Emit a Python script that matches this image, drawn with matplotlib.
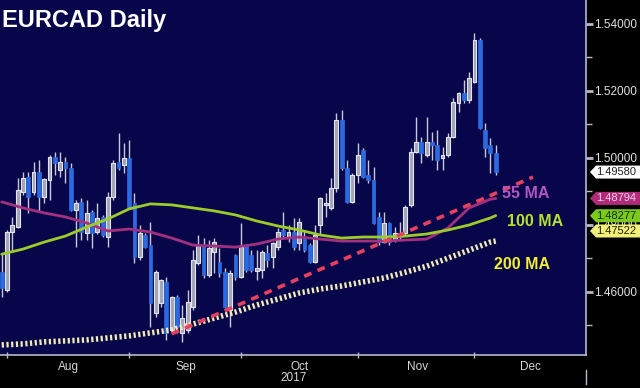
import matplotlib
matplotlib.use("Agg")
import matplotlib.pyplot as plt
from matplotlib.patches import Polygon
from matplotlib import font_manager
import numpy as np

# ---------------- data ----------------
day_index = list(range(-1, 93))
opens = [1.4660, 1.4606, 1.4779, 1.4794, 1.4898, 1.4943, 1.4898, 1.4958, 1.4884, 1.4934,
         1.5003, 1.4964, 1.4988, 1.4970, 1.4845, 1.4869, 1.4776, 1.4839, 1.4779, 1.4824,
         1.4764, 1.4884, 1.4988, 1.4979, 1.5000, 1.4866, 1.4704, 1.4770, 1.4740, 1.4537,
         1.4567, 1.4630, 1.4487, 1.4585, 1.4478, 1.4487, 1.4555, 1.4687, 1.4740, 1.4651,
         1.4719, 1.4690, 1.4660, 1.4546, 1.4710, 1.4645, 1.4740, 1.4710, 1.4663, 1.4666,
         1.4716, 1.4704, 1.4734, 1.4785, 1.4761, 1.4779, 1.4746, 1.4764, 1.4740, 1.4690,
         1.4800, 1.4860, 1.4851, 1.4910, 1.5113, 1.4970, 1.4869, 1.4949, 1.5024, 1.4949,
         1.4934, 1.4824, 1.4749, 1.4806, 1.4755, 1.4776, 1.4776, 1.4860, 1.5018, 1.5048,
         1.5009, 1.5048, 1.5039, 1.5000, 1.5009, 1.5063, 1.5164, 1.5194, 1.5173, 1.5227,
         1.5352, 1.5083, 1.5039, 1.5015]
highs = [1.4716, 1.4785, 1.4824, 1.4940, 1.4958, 1.4958, 1.4988, 1.4994, 1.4940, 1.5009,
         1.5018, 1.5018, 1.5003, 1.4985, 1.4875, 1.4881, 1.4875, 1.4845, 1.4866, 1.4830,
         1.4898, 1.4994, 1.5075, 1.5045, 1.5054, 1.4896, 1.4800, 1.4776, 1.4809, 1.4666,
         1.4640, 1.4645, 1.4588, 1.4591, 1.4561, 1.4606, 1.4725, 1.4770, 1.4761, 1.4755,
         1.4761, 1.4731, 1.4672, 1.4666, 1.4713, 1.4806, 1.4743, 1.4725, 1.4725, 1.4725,
         1.4740, 1.4749, 1.4791, 1.4839, 1.4800, 1.4821, 1.4821, 1.4785, 1.4746, 1.4800,
         1.4884, 1.4896, 1.4940, 1.5134, 1.5143, 1.4994, 1.4955, 1.5045, 1.5030, 1.4994,
         1.4973, 1.4839, 1.4839, 1.4809, 1.4794, 1.4809, 1.4860, 1.5030, 1.5122, 1.5063,
         1.5122, 1.5078, 1.5084, 1.5033, 1.5075, 1.5179, 1.5197, 1.5233, 1.5257, 1.5373,
         1.5358, 1.5104, 1.5060, 1.5039]
lows = [1.4585, 1.4600, 1.4725, 1.4790, 1.4890, 1.4836, 1.4890, 1.4839, 1.4866, 1.4875,
        1.4949, 1.4943, 1.4925, 1.4842, 1.4734, 1.4755, 1.4755, 1.4731, 1.4773, 1.4764,
        1.4734, 1.4875, 1.4964, 1.4955, 1.4850, 1.4687, 1.4696, 1.4731, 1.4496, 1.4525,
        1.4555, 1.4457, 1.4478, 1.4478, 1.4451, 1.4478, 1.4546, 1.4681, 1.4642, 1.4645,
        1.4657, 1.4645, 1.4552, 1.4496, 1.4636, 1.4642, 1.4660, 1.4660, 1.4636, 1.4642,
        1.4675, 1.4672, 1.4725, 1.4761, 1.4749, 1.4725, 1.4725, 1.4719, 1.4687, 1.4687,
        1.4770, 1.4824, 1.4845, 1.4898, 1.4964, 1.4866, 1.4866, 1.4925, 1.4940, 1.4925,
        1.4803, 1.4740, 1.4746, 1.4740, 1.4749, 1.4755, 1.4770, 1.4854, 1.5015, 1.4985,
        1.5003, 1.4994, 1.4964, 1.4964, 1.5003, 1.5060, 1.5137, 1.5164, 1.5164, 1.5224,
        1.5086, 1.5003, 1.4955, 1.4949]
closes = [1.4612, 1.4779, 1.4800, 1.4904, 1.4940, 1.4884, 1.4958, 1.4884, 1.4937, 1.5003,
          1.4985, 1.4988, 1.4970, 1.4845, 1.4866, 1.4779, 1.4836, 1.4776, 1.4821, 1.4770,
          1.4884, 1.4985, 1.4970, 1.5000, 1.4854, 1.4704, 1.4776, 1.4734, 1.4567, 1.4660,
          1.4636, 1.4478, 1.4585, 1.4496, 1.4522, 1.4570, 1.4696, 1.4740, 1.4651, 1.4731,
          1.4749, 1.4657, 1.4555, 1.4657, 1.4645, 1.4734, 1.4666, 1.4666, 1.4672, 1.4719,
          1.4696, 1.4746, 1.4779, 1.4770, 1.4779, 1.4734, 1.4809, 1.4725, 1.4690, 1.4770,
          1.4881, 1.4866, 1.4910, 1.5113, 1.4970, 1.4869, 1.4949, 1.5009, 1.4943, 1.4934,
          1.4806, 1.4749, 1.4806, 1.4749, 1.4776, 1.4764, 1.4854, 1.5018, 1.5048, 1.5015,
          1.5048, 1.5039, 1.4994, 1.5009, 1.5063, 1.5167, 1.5194, 1.5173, 1.5239, 1.5352,
          1.5089, 1.5030, 1.5015, 1.4958]

ma_index = [-1, 3, 7, 11, 15, 19, 23, 27, 31, 35, 39, 43, 47, 51, 55, 59, 63, 67, 71, 75,
            79, 83, 87, 91, 92]
ma55 = [1.4869, 1.4851, 1.4836, 1.4824, 1.4806, 1.4782, 1.4788, 1.4779, 1.4761, 1.4740,
        1.4737, 1.4734, 1.4743, 1.4758, 1.4764, 1.4758, 1.4752, 1.4752, 1.4752, 1.4755,
        1.4758, 1.4791, 1.4851, 1.4877, 1.4879]
ma100 = [1.4713, 1.4728, 1.4749, 1.4767, 1.4794, 1.4818, 1.4848, 1.4863, 1.4860, 1.4851,
         1.4842, 1.4830, 1.4812, 1.4797, 1.4785, 1.4770, 1.4761, 1.4764, 1.4764, 1.4767,
         1.4773, 1.4785, 1.4800, 1.4821, 1.4828]
ma200 = [1.4442, 1.4445, 1.4451, 1.4454, 1.4457, 1.4463, 1.4469, 1.4478, 1.4487, 1.4504,
         1.4522, 1.4540, 1.4561, 1.4579, 1.4597, 1.4609, 1.4618, 1.4630, 1.4642, 1.4659,
         1.4677, 1.4701, 1.4725, 1.4749, 1.4752]

trend_index = [31, 99]
trend_price = [1.4475, 1.4943]

month_names = ["Aug", "Sep", "Oct", "Nov", "Dec"]
month_start = [0, 23, 44, 66, 88]
month_center = [11.5, 33.7, 55.0, 77.2, 98.5]
year_label = "2017"

last_values = [1.49580, 1.48794, 1.48277, 1.47522]
y_ticks = [1.46, 1.48, 1.50, 1.52, 1.54]
y_minor = [1.45, 1.47, 1.49, 1.51, 1.53]

# ---------------- style ----------------
names = {f.name for f in font_manager.fontManager.ttflist}
if "Liberation Sans Narrow" in names:
    narrow, nsize, bsize = "Liberation Sans Narrow", 9.5, 9.5
else:
    narrow, nsize, bsize = "Liberation Sans", 8.5, 8.0

BG = "#07064a"
UP_FILL, UP_EDGE = "#a4a4b8", "#e4e4ee"
DOWN_FILL = "#2c6ae0"
WICK = "#c8c8d8"

W, H = 640, 388
fig = plt.figure(figsize=(6.4, 3.88), dpi=100, facecolor="black")
ax = fig.add_axes([0, 33 / H, 586 / W, 1 - 33 / H])
ax.set_facecolor(BG)
ax.set_xlim(-1.32, 109.0)
ax.set_ylim(1.44119, 1.54716)

# candles
x = np.array(day_index)
o, h, l, c = map(np.array, (opens, highs, lows, closes))
up = c >= o
ax.vlines(x, l, h, color=WICK, lw=1.0, zorder=2)
bottom = np.minimum(o, c)
height = np.maximum(np.abs(c - o), 0.00025)
ax.bar(x[up], height[up], bottom=bottom[up], width=0.72, color=UP_FILL,
       edgecolor=UP_EDGE, linewidth=0.8, zorder=3)
ax.bar(x[~up], height[~up], bottom=bottom[~up], width=0.72, color=DOWN_FILL,
       edgecolor=DOWN_FILL, linewidth=0.5, zorder=3)

# moving averages
ax.plot(ma_index, ma55, color="#a3307e", lw=2.0, zorder=4, solid_capstyle="round")
ax.plot(ma_index, ma100, color="#9ccc28", lw=2.0, zorder=4, solid_capstyle="round")
ax.plot(ma_index, ma200, color="#f2ecb4", lw=4.0, zorder=4,
        linestyle=(0, (0.4, 0.45)), dash_capstyle="butt")
# trend line
ax.plot(trend_index, trend_price, color="#e8405e", lw=2.6, zorder=5,
        linestyle=(0, (2.2, 1.8)))

# MA labels
ax.text(93.2, 1.4895, "55 MA", color="#b455c4", fontsize=11.5, fontweight="bold",
        family="Liberation Sans", va="center", ha="left", zorder=6)
ax.text(94.2, 1.4809, "100 MA", color="#b4e030", fontsize=11.5, fontweight="bold",
        family="Liberation Sans", va="center", ha="left", zorder=6)
ax.text(91.7, 1.4681, "200 MA", color="#f2f030", fontsize=11.5, fontweight="bold",
        family="Liberation Sans", va="center", ha="left", zorder=6)

# axes styling
for s in ("top", "left"):
    ax.spines[s].set_visible(False)
for s in ("bottom", "right"):
    ax.spines[s].set_color("#b8b8c8")
    ax.spines[s].set_linewidth(1.2)
ax.yaxis.tick_right()
ax.set_yticks(y_ticks)
ax.set_yticklabels([f"{v:.5f}" for v in y_ticks])
ax.set_yticks(y_minor, minor=True)
ax.tick_params(axis="y", which="major", colors="#b8b8c8", length=5, width=2.0,
               labelcolor="#e0e0e0", labelsize=nsize, pad=1)
ax.tick_params(axis="y", which="minor", colors="#b8b8c8", length=4, width=1)
for t in ax.get_yticklabels():
    t.set_family(narrow)

ax.set_xticks(month_start)
ax.set_xticklabels([""] * len(month_start))
ax.set_xticks(month_center, minor=True)
ax.set_xticklabels(month_names, minor=True)
ax.tick_params(axis="x", which="major", colors="#b8b8c8", length=4, width=1,
               direction="inout")
ax.tick_params(axis="x", which="minor", length=0, labelcolor="#d8d8d8",
               labelsize=nsize, pad=4)
for t in ax.get_xticklabels(minor=True):
    t.set_family(narrow)
ax.text(53.9, -(378 - 355) / 355, year_label, transform=ax.get_xaxis_transform(),
        color="#d8d8d8", fontsize=nsize, family=narrow, ha="center", va="center")

# separator below right end of x axis
fig.add_artist(plt.Line2D([586 / W, 586 / W], [(388 - 370) / H, (388 - 384) / H],
                          color="#b8b8c8", lw=1, transform=fig.transFigure))

# title
fig.text(2 / W, 1 - 27 / H, "EURCAD Daily", color="white", fontsize=17,
         fontweight="bold", family="Liberation Sans", va="baseline", ha="left")

# last-value boxes on right axis
box_style = [("#ffffff", "#202020", 0), ("#b02c78", "#f4d0ec", 0),
             ("#7cc81c", "#103000", 0), ("#f2f07a", "#202000", -10)]
for val, (fc, tc, off) in zip(last_values, box_style):
    yd = ax.transData.transform((0, val))[1]
    ypx = (H - yd) + off  # pixels from top
    pts = [(590, ypx), (596, ypx - 6.5), (640, ypx - 6.5), (640, ypx + 6.5), (596, ypx + 6.5)]
    poly = Polygon([(px / W, 1 - py / H) for px, py in pts], closed=True,
                   transform=fig.transFigure, facecolor=fc, edgecolor="none", zorder=10)
    fig.add_artist(poly)
    fig.text(596 / W, 1 - ypx / H, f"{val:.5f}", color=tc, fontsize=bsize,
             family=narrow, ha="left", va="center", zorder=11)

fig.savefig("out.png", dpi=100, facecolor="black")
